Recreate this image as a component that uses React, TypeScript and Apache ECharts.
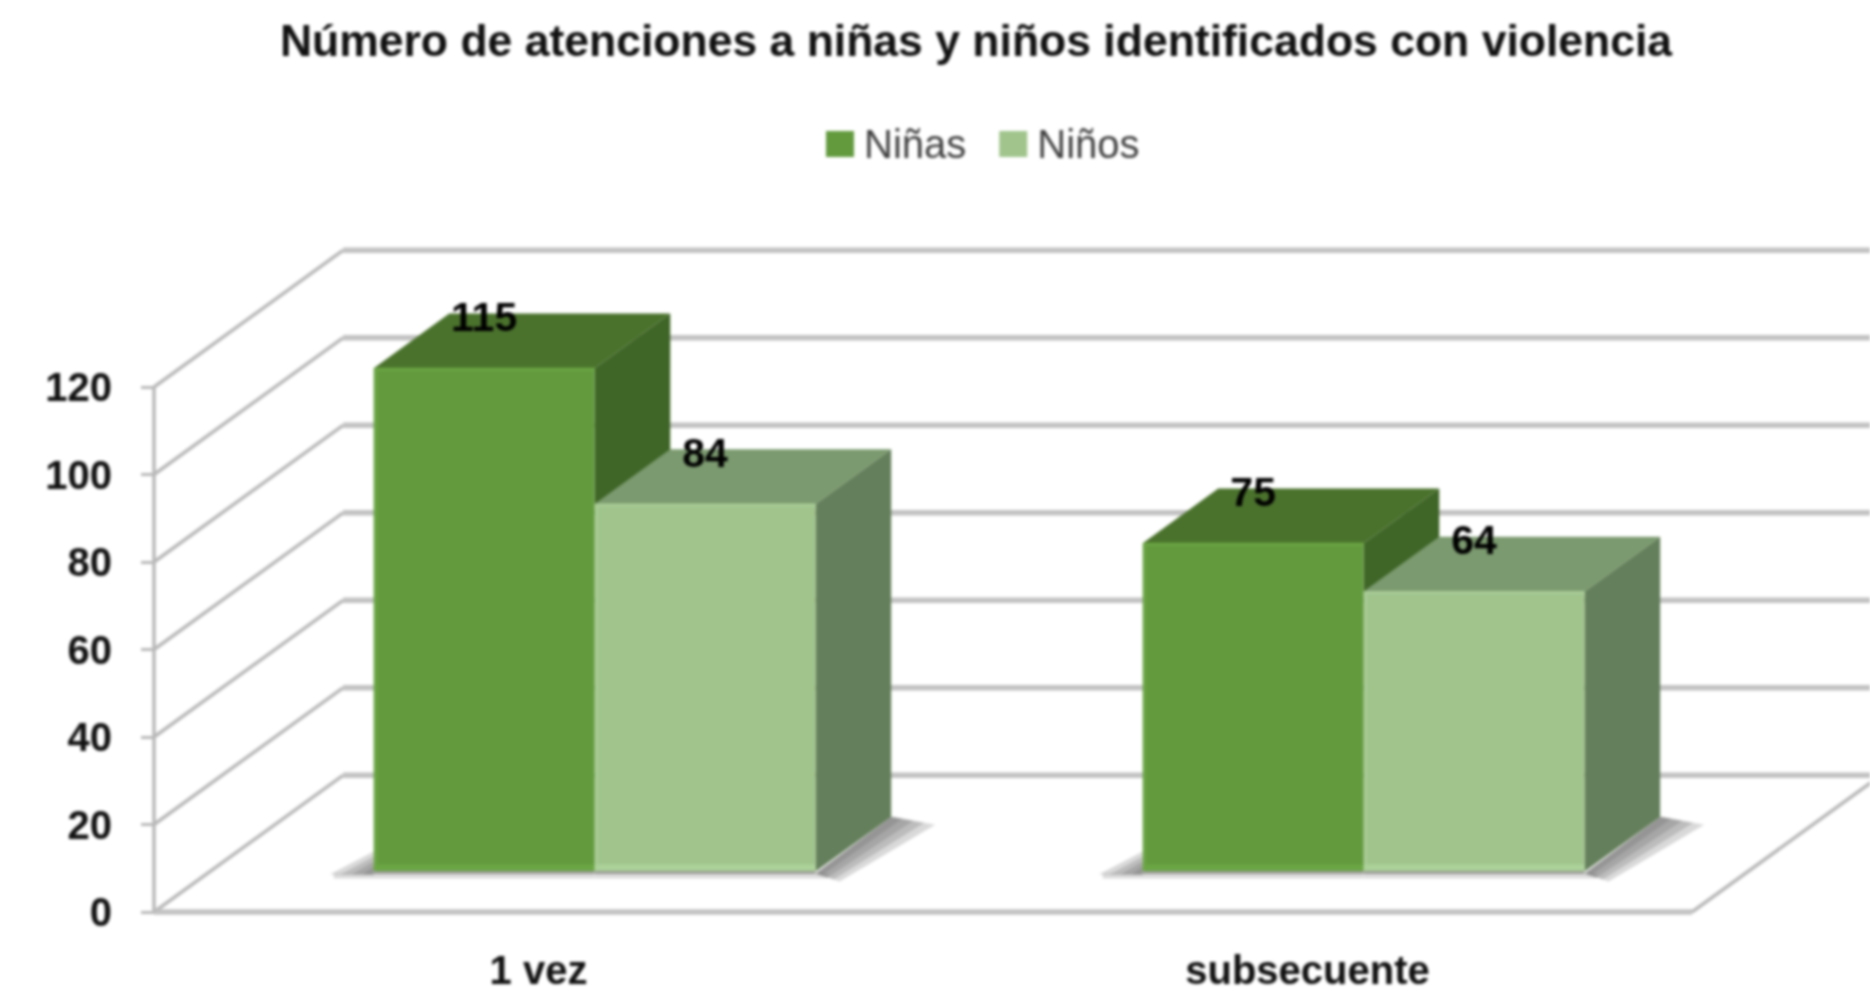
import React, { useEffect, useRef } from "react";
import * as echarts from "echarts";

const titleText = "Número de atenciones a niñas y niños identificados con violencia";
const categories = ["1 vez", "subsecuente"];
const seriesNames = ["Niñas", "Niños"];
const ninas = [115, 75];
const ninos = [84, 64];
const yTicks = [0, 20, 40, 60, 80, 100, 120];

const FONT = '"Liberation Sans", Arial, sans-serif';
const WALL_DX = 189;
const WALL_DY = -136.7;
const BAR_FRONT = 0.297;
const BAR_BACK = 0.697;
const BAR_WIDTH_SHARE = 0.2873;
const LINE = "#c2c2c2";
const DIAG = "#b8b8b8";
const SHADOW_BANDS = [1, 2, 3, 4];

const palettes = [
  { front: "#629a3d", rim: "#6ba644", top: "#4a722c", side: "#3f6527", foot: "#6ba644" },
  { front: "#a0c48c", rim: "#a9cc96", top: "#7b9a6f", side: "#647f5b", foot: "#acd29a" },
];

function wallItem(params: any, api: any) {
  const cs = params.coordSys;
  const value = api.value(0);
  const [, y] = api.coord([0, value]);
  const left = cs.x;
  const right = cs.x + cs.width;
  const children: any[] = [
    {
      type: "line",
      shape: { x1: left, y1: y, x2: left + WALL_DX, y2: y + WALL_DY },
      style: { stroke: DIAG, lineWidth: 3.5 },
    },
    {
      type: "line",
      shape: { x1: left + WALL_DX, y1: y + WALL_DY, x2: right + WALL_DX, y2: y + WALL_DY },
      style: { stroke: LINE, lineWidth: 5.5 },
    },
  ];
  if (value === 0) {
    children.push(
      { type: "line", shape: { x1: left, y1: y, x2: right, y2: y }, style: { stroke: LINE, lineWidth: 5.5 } },
      { type: "line", shape: { x1: right, y1: y, x2: right + WALL_DX, y2: y + WALL_DY }, style: { stroke: DIAG, lineWidth: 3.5 } },
      { type: "line", shape: { x1: left, y1: y, x2: left, y2: cs.y }, style: { stroke: DIAG, lineWidth: 3.5 } },
    );
  }
  return { type: "group", children };
}

function barItem(seriesIndex: number) {
  return (params: any, api: any) => {
    const p = palettes[seriesIndex];
    const cat = api.value(0);
    const value = api.value(1);
    const [cx, yTop] = api.coord([cat, value]);
    const [, yBase] = api.coord([cat, 0]);
    const w = api.size([1, 0])[0] * BAR_WIDTH_SHARE;
    const fx = WALL_DX * BAR_FRONT;
    const fy = WALL_DY * BAR_FRONT;
    const bx = WALL_DX * (BAR_BACK - BAR_FRONT);
    const by = WALL_DY * (BAR_BACK - BAR_FRONT);
    const x0 = cx + fx + (seriesIndex === 0 ? -w : 0);
    const x1 = x0 + w;
    const top = yTop + fy;
    const base = yBase + fy;
    const children: any[] = [];
    // faint floor band under the front edge
    children.push({
      type: "rect",
      shape: { x: seriesIndex === 0 ? x0 - 40 : x0, y: base + 2, width: seriesIndex === 0 ? w + 40 : w + 12, height: 5 },
      style: { fill: "#dcdcdc" },
    });
    SHADOW_BANDS.forEach((k) => {
      if (seriesIndex === 0) {
        children.push({
          type: "polygon",
          shape: { points: [[x0 - 11 * k, base + 3], [x0, base - 5 * k], [x0, base + 3]] },
          style: { fill: "rgba(95,95,95,0.24)" },
        });
      } else {
        children.push({
          type: "polygon",
          shape: {
            points: [
              [x1, base + 2],
              [x1 + bx, base + by],
              [x1 + bx + 11 * k, base + by + 2 * k],
              [x1 + 6 * k, base + 2 + 2 * k],
            ],
          },
          style: { fill: "rgba(95,95,95,0.24)" },
        });
      }
    });
    children.push(
      {
        type: "polygon",
        shape: { points: [[x1, top], [x1 + bx, top + by], [x1 + bx, base + by], [x1, base]] },
        style: { fill: p.side },
      },
      {
        type: "polygon",
        shape: { points: [[x0, top], [x1, top], [x1 + bx, top + by], [x0 + bx, top + by]] },
        style: { fill: p.top },
      },
      {
        type: "rect",
        shape: { x: x0, y: top, width: w, height: base - top },
        style: { fill: p.front },
      },
      { type: "line", shape: { x1: x0 + 1, y1: top + 1, x2: x1, y2: top + 1 }, style: { stroke: p.rim, lineWidth: 3 } },
      { type: "line", shape: { x1: x0 + 2, y1: top, x2: x0 + 2, y2: base }, style: { stroke: p.rim, lineWidth: 3 } },
      { type: "rect", shape: { x: x0, y: base - 7, width: w, height: 6 }, style: { fill: p.foot } },
      { type: "line", shape: { x1: x0, y1: base + 1, x2: x1, y2: base + 1 }, style: { stroke: "#9c9f98", lineWidth: 3 } },
      {
        type: "text",
        style: {
          x: x0 + w / 2,
          y: top - 51,
          text: String(value),
          fill: "#000000",
          font: `bold 41px ${FONT}`,
          align: "center",
          verticalAlign: "middle",
        },
      },
    );
    return { type: "group", children };
  };
}

export default function App() {
  const ref = useRef<HTMLDivElement>(null);
  useEffect(() => {
    const chart = echarts.init(ref.current!, undefined, { renderer: "svg" });
    chart.setOption({
      animation: false,
      backgroundColor: "#ffffff",
      title: {
        text: titleText,
        left: 971,
        top: 13,
        textAlign: "center",
        textStyle: { fontFamily: FONT, fontWeight: "bold", fontSize: 44.5, color: "#111111" },
      },
      legend: {
        data: seriesNames,
        left: 821,
        top: 119,
        icon: "rect",
        itemWidth: 28,
        itemHeight: 26,
        itemGap: 33,
        textStyle: { fontFamily: FONT, fontSize: 40, color: "#404040", padding: [0, 0, 0, 5] },
      },
      grid: { left: 154, right: 178, top: 387, bottom: 79, containLabel: false },
      xAxis: {
        type: "category",
        data: categories,
        axisLine: { show: false },
        axisTick: { show: false },
        axisLabel: { fontFamily: FONT, fontWeight: "bold", fontSize: 40, color: "#111111", margin: 38 },
      },
      yAxis: {
        type: "value",
        min: 0,
        max: 120,
        interval: 20,
        axisLine: { show: false },
        splitLine: { show: false },
        axisTick: { show: true, length: 13, lineStyle: { color: "#b8b8b8", width: 3 } },
        axisLabel: { fontFamily: FONT, fontWeight: "bold", fontSize: 40, color: "#111111", margin: 42 },
      },
      series: [
        {
          type: "custom",
          name: "paredes",
          renderItem: wallItem,
          encode: { y: 0 },
          data: yTicks.map((t) => [t]),
          silent: true,
          z: 1,
        },
        {
          type: "custom",
          name: seriesNames[0],
          renderItem: barItem(0),
          encode: { x: 0, y: 1 },
          data: ninas.map((v, i) => [i, v]),
          itemStyle: { color: palettes[0].front },
          z: 2,
        },
        {
          type: "custom",
          name: seriesNames[1],
          renderItem: barItem(1),
          encode: { x: 0, y: 1 },
          data: ninos.map((v, i) => [i, v]),
          itemStyle: { color: palettes[1].front },
          z: 3,
        },
      ],
    });
    return () => chart.dispose();
  }, []);
  return (
    <div
      ref={ref}
      style={{ position: "absolute", left: 0, top: 0, width: 1870, height: 991, filter: "blur(1.4px)" }}
    />
  );
}
